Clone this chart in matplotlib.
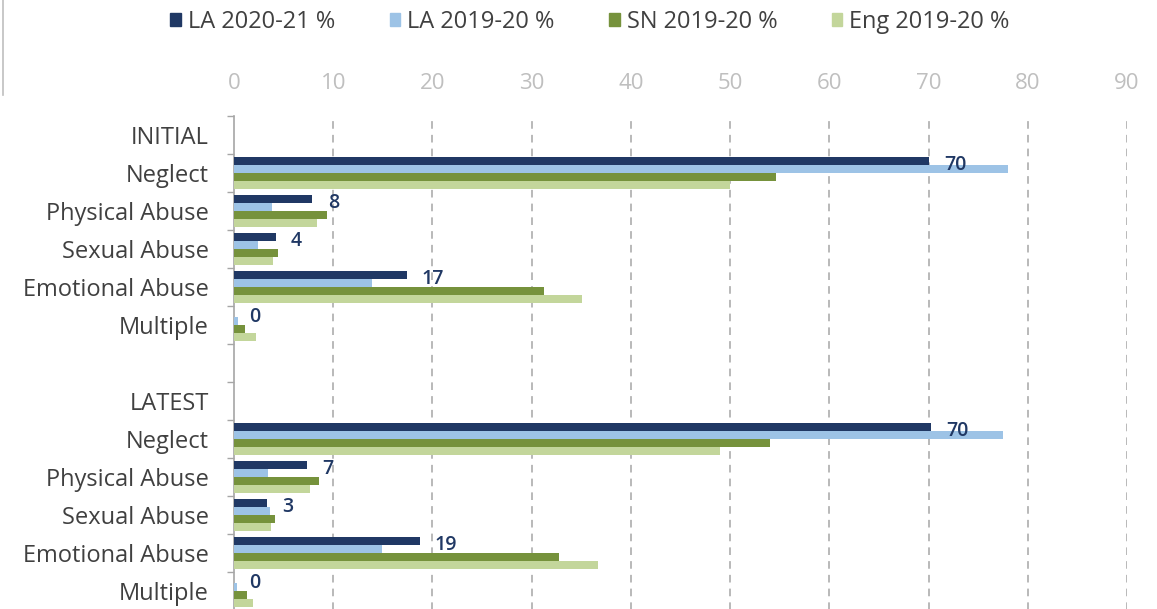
import numpy as np
import matplotlib
matplotlib.use('Agg')
import matplotlib.pyplot as plt
from matplotlib.patches import Patch
from matplotlib.lines import Line2D

# rows from top to bottom, header rows have no bars
categories = ['INITIAL', 'Neglect', 'Physical Abuse', 'Sexual Abuse', 'Emotional Abuse', 'Multiple',
              '', 'LATEST', 'Neglect', 'Physical Abuse', 'Sexual Abuse', 'Emotional Abuse', 'Multiple']
nan = np.nan
la_2021 = [nan, 70.0, 7.9, 4.2, 17.4, 0.0, nan, nan, 70.2, 7.4, 3.3, 18.7, 0.0]
la_1920 = [nan, 78.0, 3.8, 2.4, 13.9, 0.4, nan, nan, 77.5, 3.4, 3.6, 14.9, 0.3]
sn_1920 = [nan, 54.6, 9.4, 4.4, 31.2, 1.1, nan, nan, 54.0, 8.6, 4.1, 32.8, 1.3]
eng_1920 = [nan, 50.0, 8.4, 3.9, 35.1, 2.2, nan, nan, 49.0, 7.7, 3.7, 36.7, 1.9]
series_names = ['LA 2020-21 %', 'LA 2019-20 %', 'SN 2019-20 %', 'Eng 2019-20 %']
colours = ['#203864', '#9DC3E6', '#76923C', '#C3D69B']

plt.rcParams['font.family'] = ['Open Sans', 'DejaVu Sans']

fig = plt.figure(figsize=(11.57, 6.09), dpi=100)
ax = fig.add_axes([234 / 1157, -1 / 609, 893 / 1157, 494 / 609])

y = np.arange(len(categories))
h = 0.21
offs = [-1.5 * h, -0.5 * h, 0.5 * h, 1.5 * h]
for vals, off, col in zip([la_2021, la_1920, sn_1920, eng_1920], offs, colours):
    ax.barh(y + off, np.nan_to_num(vals), height=h, color=col, zorder=3)

# data labels for LA 2020-21
for yi, v in zip(y, la_2021):
    if np.isnan(v):
        continue
    ax.annotate(str(int(round(v))), (v, yi + offs[0]), xytext=(11, -2.5),
                textcoords='offset points', ha='left', va='center',
                color='#203864', fontsize=14, fontweight='semibold', zorder=4)

ax.set_xlim(0, 90)
ax.set_ylim(len(categories) - 0.5, -0.5)
ax.set_xticks(np.arange(0, 91, 10))
ax.xaxis.tick_top()
ax.tick_params(axis='x', length=0, pad=16, labelsize=16, labelcolor='#BFBFBF')
ax.set_yticks(np.arange(-0.5, len(categories), 1.0))
ax.set_yticklabels([])
ax.set_yticks(y, minor=True)
ax.set_yticklabels(categories, minor=True)
ax.tick_params(axis='y', which='major', length=5, width=1, color='#A6A6A6')
ax.tick_params(axis='y', which='minor', length=0, pad=18, labelsize=17, labelcolor='#404040')

for xv in range(10, 91, 10):
    ax.axvline(xv, color='#A6A6A6', lw=1.1, ls=(0, (5, 4)), zorder=1)

for s in ['top', 'right', 'bottom']:
    ax.spines[s].set_visible(False)
ax.spines['left'].set_color('#A6A6A6')
ax.spines['left'].set_linewidth(1.2)

handles = [Patch(color=c) for c in colours]
fig.legend(handles, series_names, loc='center', bbox_to_anchor=(590 / 1157, 1 - 22 / 609),
           ncol=4, frameon=False, fontsize=17, handlelength=0.45, handleheight=0.45,
           handletextpad=0.3, columnspacing=2.3, labelcolor='#404040')

# partial chart frame at the far left
fig.add_artist(Line2D([3 / 1157, 3 / 1157], [1, 1 - 95 / 609], color='#BFBFBF', lw=1.2))

fig.savefig('out.png', dpi=100)
